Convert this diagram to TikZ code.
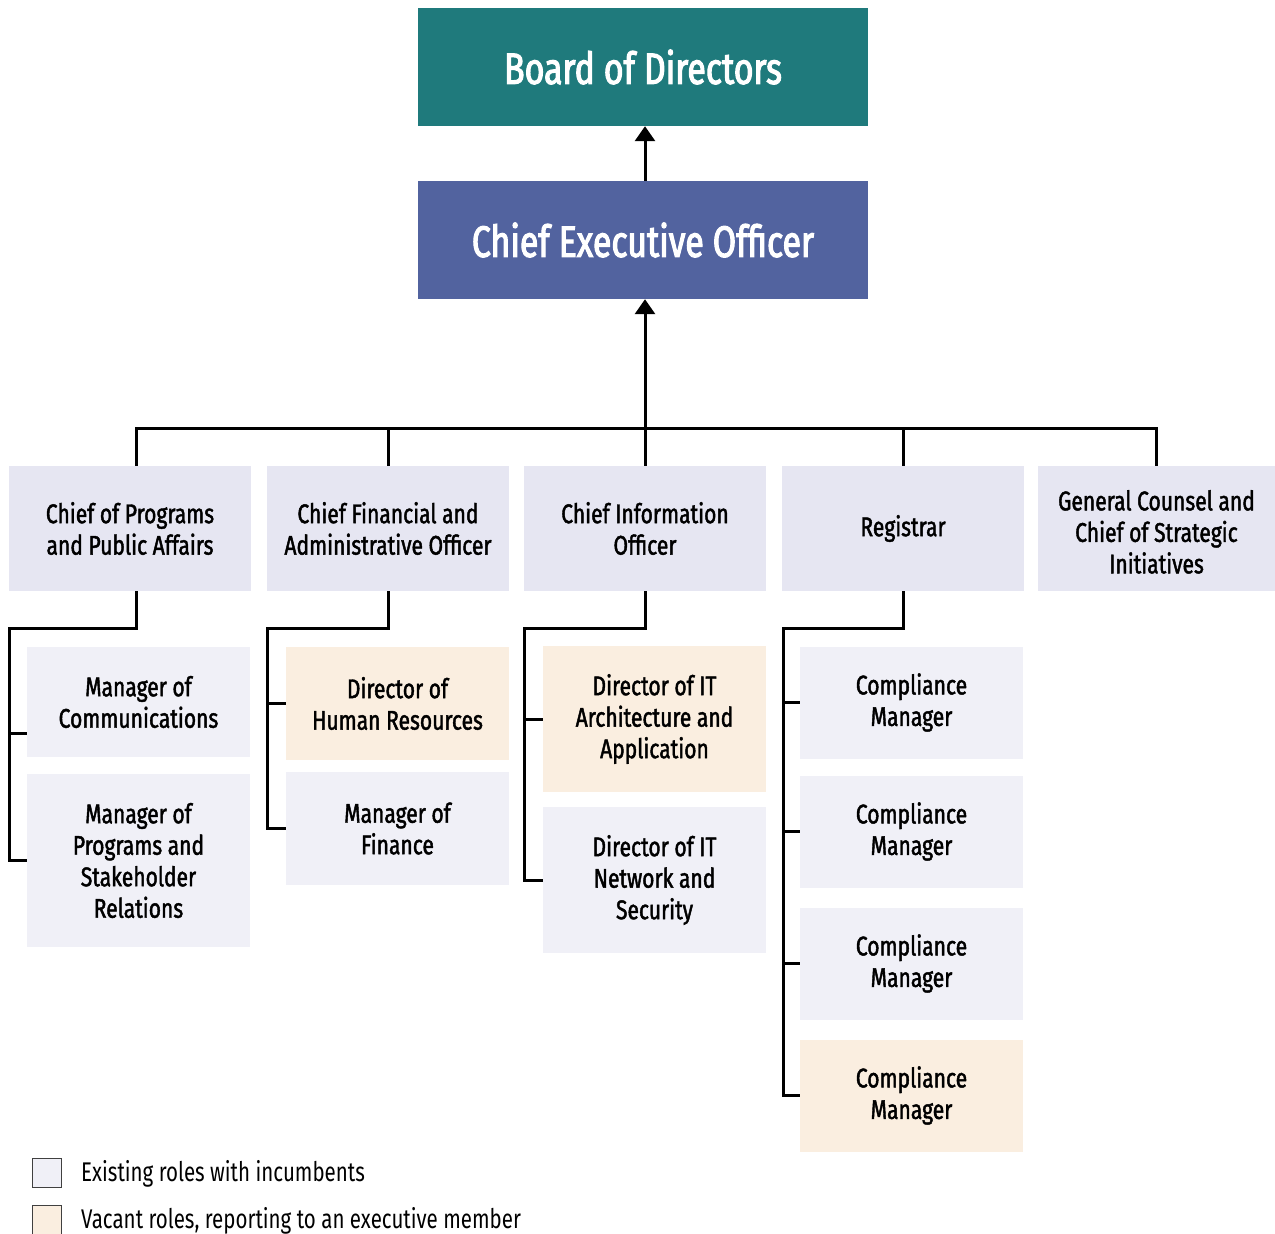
\documentclass[tikz,border=0pt]{standalone}
\usepackage{fontspec}
\setmainfont{Fira Sans}[FakeStretch=0.76]
\newfontfamily\boxfont{Fira Sans}[FakeStretch=0.78, FakeBold=1.6]
\newfontfamily\headfont{Fira Sans}[FakeStretch=0.77, FakeBold=2.4]
\usetikzlibrary{arrows.meta}
\definecolor{bodteal}{HTML}{1F7A7C}
\definecolor{ceoblue}{HTML}{52639F}
\definecolor{capo}{HTML}{E6E6F2}
\definecolor{staff}{HTML}{F0F0F7}
\definecolor{vacante}{HTML}{FAEEE0}
\tikzset{
  role/.style={fill=#1, inner sep=0pt, align=center, minimum width=223pt,
    font=\boxfont\fontsize{27}{31.5}\selectfont},
  chief/.style={role=capo, minimum width=242pt, minimum height=125pt},
  top/.style={fill=#1, minimum width=450pt, minimum height=118pt, text=white,
    font=\headfont\fontsize{44}{48}\selectfont},
  link/.style={line width=3pt},
  arr/.style={line width=3pt, -{Triangle[width=20pt,length=15pt]}},
}
\begin{document}
\begin{tikzpicture}[x=1pt,y=-1pt]
    \useasboundingbox (0,0) rectangle (1275,1234);
    % vertice
    \node[top=bodteal] (bod) at (643,67) {Board of Directors};
    \node[top=ceoblue] (ceo) at (643,240) {Chief Executive Officer};
    % livello 2
    \node[chief] (pa) at (130,528.5) {Chief of Programs\\and Public Affairs};
    \node[chief] (cfo) at (388,528.5) {Chief Financial and\\Administrative Officer};
    \node[chief] (cio) at (645,528.5) {Chief Information\\Officer};
    \node[chief] (reg) at (903,528.5) {Registrar};
    \node[chief, minimum width=237pt] (gc) at (1156.5,528.5) {\rule{0pt}{27pt}General Counsel and\\Chief of Strategic\\Initiatives};
    % livello 3
    \node[role=staff, minimum height=110pt] (mcom) at (138.5,702) {Manager of\\Communications};
    \node[role=staff, minimum height=173pt] (mpsr) at (138.5,860.5) {Manager of\\Programs and\\Stakeholder\\Relations};
    \node[role=vacante, minimum height=113pt] (dhr) at (397.5,703.5) {Director of\\Human Resources};
    \node[role=staff, minimum height=113pt] (mfin) at (397.5,828.5) {Manager of\\Finance};
    \node[role=vacante, minimum height=146pt] (dita) at (654.5,719) {Director of IT\\Architecture and\\Application};
    \node[role=staff, minimum height=146pt] (ditn) at (654.5,880) {Director of IT\\Network and\\Security};
    \foreach \i/\y/\c in {1/702.5/staff, 2/831.5/staff, 3/963.5/staff, 4/1095.5/vacante} {
        \node[role=\c, minimum height=112pt] (cm\i) at (911.5,\y) {Compliance\\Manager};
    }
    % frecce e linee
    \draw[arr] (ceo.north -| cio.north) -- (bod.south -| cio.north);
    \draw[arr] (cio.north) -- (cio.north |- ceo.south);
    \coordinate (bus) at (645,428);
    \draw[link] ([xshift=6pt]pa.north) |- (bus) -| (gc.north);
    \draw[link] (cfo.north) -- (cfo.north |- bus);
    \draw[link] (reg.north) -- (reg.north |- bus);
    \draw[link] ([xshift=6pt]pa.south) -- ++(0,37) -| ([xshift=-17pt]mpsr.west) -- (mpsr.west);
    \draw[link] ([yshift=-31pt]mcom.west) -- ++(-17,0);
    \draw[link] (cfo.south) -- ++(0,37) -| ([xshift=-18pt]mfin.west) -- (mfin.west);
    \draw[link] (dhr.west) -- ++(-18,0);
    \draw[link] (cio.south) -- ++(0,37) -| ([xshift=-18pt]ditn.west) -- (ditn.west);
    \draw[link] (dita.west) -- ++(-18,0);
    \draw[link] (reg.south) -- ++(0,37) -| ([xshift=-16pt]cm4.west) -- (cm4.west);
    \foreach \i in {1,2,3} { \draw[link] (cm\i.west) -- ++(-16,0); }
    % legenda
    \node[draw=black!75, line width=1pt, fill=staff, minimum size=29pt, inner sep=0pt] (leg1) at (47,1173) {};
    \node[draw=black!75, line width=1pt, fill=vacante, minimum size=29pt, inner sep=0pt] (leg2) at (47,1219.5) {};
    \node[anchor=west, inner sep=0pt, font=\fontsize{27}{31}\selectfont] (leg1txt) at (81,1174) {Existing roles with incumbents};
    \node[anchor=west, inner sep=0pt, font=\fontsize{27}{31}\selectfont] (leg2txt) at (81,1221) {Vacant roles, reporting to an executive member};
\end{tikzpicture}
\end{document}
